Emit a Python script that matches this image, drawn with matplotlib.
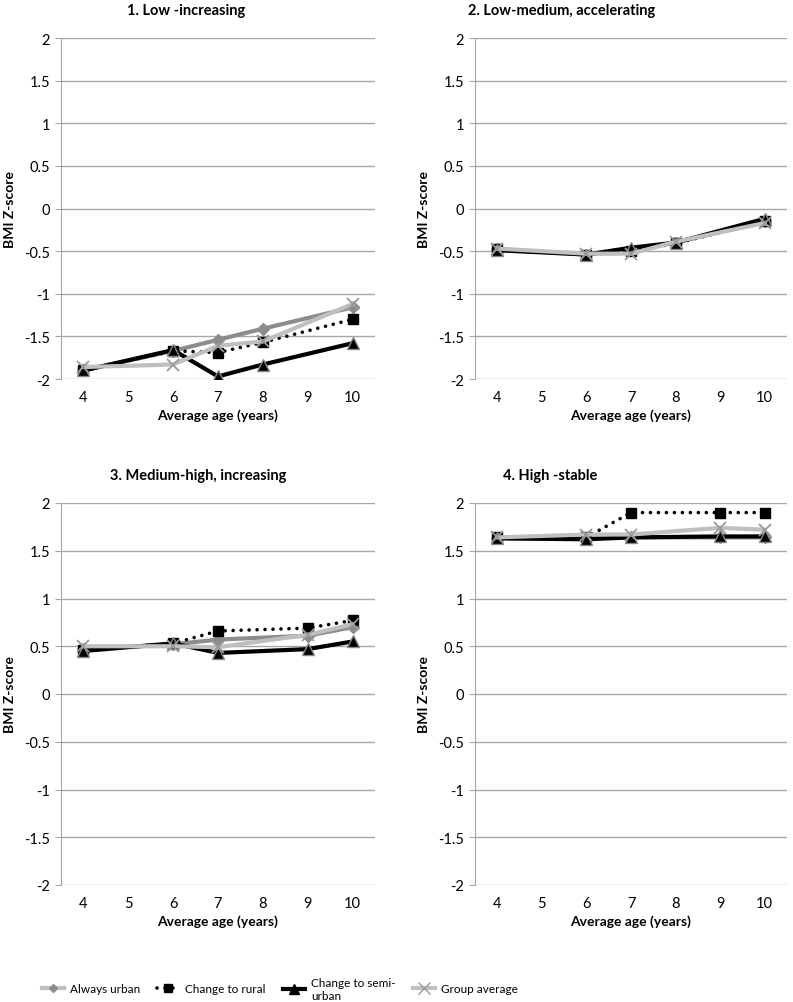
import matplotlib
matplotlib.use("Agg")
import matplotlib.pyplot as plt
from matplotlib.lines import Line2D
from matplotlib import font_manager

plt.rcParams['font.family'] = ['Lato', 'DejaVu Sans']

# ages where each group was measured
ages_p1 = [4, 6, 7, 8, 10]
ages_p2 = [4, 6, 7, 8, 10]
ages_p3 = [4, 6, 7, 9, 10]
ages_p4 = [4, 6, 7, 9, 10]

titles = ["1. Low -increasing", "2. Low-medium, accelerating",
          "3. Medium-high, increasing", "4. High -stable"]

# BMI z-scores per panel
urban = [
    [-1.90, -1.67, -1.54, -1.41, -1.16],
    [-0.48, -0.54, -0.49, -0.40, -0.15],
    [0.47, 0.52, 0.57, 0.61, 0.70],
    [1.63, 1.63, 1.64, 1.64, 1.64],
]
rural = [
    [-1.90, -1.67, -1.69, -1.57, -1.30],
    [-0.48, -0.54, -0.50, -0.41, -0.15],
    [0.46, 0.53, 0.66, 0.69, 0.77],
    [1.64, 1.64, 1.90, 1.90, 1.90],
]
semi = [
    [-1.90, -1.66, -1.97, -1.83, -1.58],
    [-0.49, -0.54, -0.46, -0.40, -0.12],
    [0.45, 0.53, 0.43, 0.47, 0.55],
    [1.63, 1.62, 1.64, 1.65, 1.65],
]
group = [
    [-1.86, -1.83, -1.61, -1.56, -1.12],
    [-0.47, -0.53, -0.53, -0.39, -0.17],
    [0.50, 0.50, 0.49, 0.62, 0.73],
    [1.64, 1.67, 1.67, 1.74, 1.72],
]
ages = [ages_p1, ages_p2, ages_p3, ages_p4]

yticks = [-2, -1.5, -1, -0.5, 0, 0.5, 1, 1.5, 2]
ytick_labels = ["-2", "-1.5", "-1", "-0.5", "0", "0.5", "1", "1.5", "2"]
xticks = [4, 5, 6, 7, 8, 9, 10]

W, H = 793, 1003
fig = plt.figure(figsize=(W / 100, H / 100), dpi=100)

# axes boxes in pixels: left, right, top, bottom
boxes = [(61, 375, 39, 380), (475, 787, 39, 380),
         (61, 375, 504, 886), (475, 787, 504, 886)]
title_x = [186, 562, 198, 550]

c_urban = '#8c8c8c'
c_group = '#bfbfbf'
dots = (0, (0.01, 2.2))

for i in range(4):
    l, r, t, b = boxes[i]
    ax = fig.add_axes([l / W, 1 - b / H, (r - l) / W, (b - t) / H])
    x = ages[i]
    ax.plot(x, urban[i], color=c_urban, lw=3, marker='D', ms=6,
            mfc=c_urban, mec=c_urban, zorder=3)
    ax.plot(x, rural[i], color='black', lw=2.6, ls=dots,
            dash_capstyle='round', marker='s', ms=7.5, mfc='black',
            mec='black', zorder=4)
    ax.plot(x, semi[i], color='black', lw=3, marker='^', ms=8,
            mfc='black', mec='#888888', zorder=5)
    ax.plot(x, group[i], color=c_group, lw=3, marker='x', ms=9,
            mew=1.3, mfc=c_group, mec='#999999', zorder=6)

    ax.set_xlim(3.5, 10.5)
    ax.set_ylim(-2, 2)
    ax.set_yticks(yticks)
    ax.set_yticklabels(ytick_labels)
    ax.set_xticks(xticks)
    ax.grid(axis='y', color='#a6a6a6', lw=1)
    ax.set_axisbelow(True)
    for s in ['top', 'right', 'bottom']:
        ax.spines[s].set_visible(False)
    ax.spines['left'].set_color('#a6a6a6')
    ax.tick_params(axis='y', length=4, color='#a6a6a6', labelsize=10.5, pad=4)
    ax.tick_params(axis='x', length=0, labelsize=10.5, pad=8)
    ax.set_xlabel("Average age (years)", fontsize=10, fontweight='bold', labelpad=3)
    ax.set_ylabel("BMI Z-score", fontsize=10, fontweight='bold', labelpad=6)
    fig.text(title_x[i] / W, 1 - (t - 28) / H, titles[i], ha='center', va='center',
             fontsize=10.5, fontweight='bold')

handles = [
    Line2D([], [], color=c_group, lw=3, marker='D', ms=4, mfc=c_urban, mec=c_urban),
    Line2D([], [], color='black', lw=2.6, ls=dots, dash_capstyle='round',
           marker='s', ms=6, mfc='black'),
    Line2D([], [], color='black', lw=3, marker='^', ms=7, mfc='black'),
    Line2D([], [], color=c_group, lw=3, marker='x', ms=8, mec='#999999'),
]
labels = ["Always urban", "Change to rural", "Change to semi-\nurban", "Group average"]
leg_x = [42, 157, 283, 413]

names = {f.name for f in font_manager.fontManager.ttflist}
leg_font = 'Liberation Sans Narrow' if 'Liberation Sans Narrow' in names else 'Lato'
for h, lab, lx in zip(handles, labels, leg_x):
    fig.legend([h], [lab], loc='center left', bbox_to_anchor=(lx / W, 1 - 990 / H),
               frameon=False, handlelength=1.9, handletextpad=0.5,
               borderpad=0, borderaxespad=0,
               prop={'family': leg_font, 'size': 8.5})

fig.savefig("out.png", dpi=100)
